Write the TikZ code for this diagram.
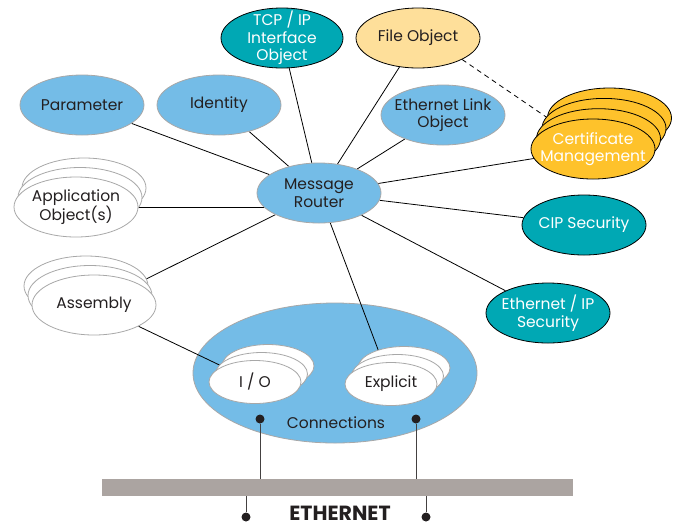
\documentclass[tikz,border=0pt]{standalone}
\usepackage{fontspec}
\setmainfont{Poppins}
\usepackage{tikz}
\usetikzlibrary{shapes.geometric,shadows,positioning}
\definecolor{objblue}{HTML}{74BCE7}
\definecolor{objteal}{HTML}{00A8B4}
\definecolor{fileorg}{HTML}{FEDF9A}
\definecolor{certyel}{HTML}{FEC22B}
\definecolor{rimgray}{HTML}{A8A8A8}
\definecolor{busgray}{HTML}{ABA4A1}
\definecolor{inkdark}{HTML}{231F20}
\pgfdeclarelayer{conn}
\pgfdeclarelayer{wires}
\pgfsetlayers{conn,wires,main}

\begin{document}
\begin{tikzpicture}[x=1pt, y=-1pt,
  obj/.style={ellipse, draw=rimgray, fill=objblue, line width=0.8pt,
              minimum width=124pt, minimum height=60pt,
              inner xsep=-14pt, inner ysep=-9pt,
              align=center, text=inkdark,
              font=\fontsize{15.5}{17.5}\selectfont},
  sec/.style={obj, draw=black, fill=objteal, text=white},
  pile/.style={obj, fill=white},
  sub/.style={pile, minimum width=92pt, minimum height=43pt},
  wire/.style={draw=black, line width=0.8pt},
  tap/.style={circle, fill=inkdark, inner sep=0pt, minimum size=9pt},
  drop/.style={draw=inkdark!85, line width=1pt}
]
\useasboundingbox (0,0) rectangle (677,523);
% Objects round the router
\node[obj] (router) at (319,193) {Message\\Router};
\node[obj] (param) at (82,105) {Parameter};
\node[obj] (ident) at (219,105) {Identity};
\node[sec, minimum width=122pt] (tcpip) at (282,38) {TCP / IP\\Interface\\Object};
\node[obj, draw=black, fill=fileorg] (file) at (418,38) {File Object};
\node[obj] (link) at (443,115) {Ethernet Link\\Object};
\node[sec] (cip) at (584,225) {CIP Security};
\node[sec] (eipsec) at (548,313) {Ethernet / IP\\Security};
% Stacked objects
\node[obj, draw=black, fill=certyel, text=white,
      copy shadow={shadow xshift=16.5pt, shadow yshift=31pt, fill=certyel, draw=black},
      copy shadow={shadow xshift=11pt, shadow yshift=20.6pt, fill=certyel, draw=black},
      copy shadow={shadow xshift=5.5pt, shadow yshift=10.3pt, fill=certyel, draw=black}]
  (cert) at (593,149) {Certificate\\Management};
\node[pile,
      copy shadow={shadow xshift=8pt, shadow yshift=19pt, fill=white, draw=rimgray},
      copy shadow={shadow xshift=4pt, shadow yshift=9.5pt, fill=white, draw=rimgray}]
  (app) at (76,207) {Application\\Object(s)};
\node[pile,
      copy shadow={shadow xshift=-8pt, shadow yshift=19pt, fill=white, draw=rimgray},
      copy shadow={shadow xshift=-4pt, shadow yshift=9.5pt, fill=white, draw=rimgray}]
  (asm) at (94,305) {Assembly};
% Connections
\begin{pgfonlayer}{conn}
\node[obj, minimum width=284pt, minimum height=140pt] (conns) at (335,373) {};
\end{pgfonlayer}
\node[font=\fontsize{15.5}{17.5}\selectfont, text=inkdark] (connlbl) at (336,423) {Connections};
\node[sub,
      copy shadow={shadow xshift=13pt, shadow yshift=16pt, fill=white, draw=rimgray},
      copy shadow={shadow xshift=6.5pt, shadow yshift=8pt, fill=white, draw=rimgray}]
  (io) at (255,382) {I / O};
\node[sub,
      copy shadow={shadow xshift=13pt, shadow yshift=16pt, fill=white, draw=rimgray},
      copy shadow={shadow xshift=6.5pt, shadow yshift=8pt, fill=white, draw=rimgray}]
  (expl) at (391,384) {Explicit};
% Links to the router
\begin{pgfonlayer}{wires}
\foreach \n in {param,ident,tcpip,file,link,cert,cip,eipsec,asm,expl}
  \draw[wire] (router) -- (\n);
\draw[wire] (app) -- (app -| router);
\draw[wire] (asm) -- (io);
\draw[wire, dashed, dash pattern=on 5pt off 4pt] (file.south east) -- (cert);
\end{pgfonlayer}
% Ethernet bus
\node[fill=busgray, minimum width=471pt, minimum height=17pt, inner sep=0pt] (bus) at (337.5,487.5) {};
\node[tap] (iotap) at (260,419) {};
\node[tap] (expltap) at (416,419) {};
\node[tap] (ltap) at (246,517) {};
\node[tap] (rtap) at (426,517) {};
\draw[drop] (iotap) -- (iotap |- bus.north);
\draw[drop] (expltap) -- (expltap |- bus.north);
\draw[drop] (bus.south -| ltap) -- (ltap);
\draw[drop] (bus.south -| rtap) -- (rtap);
\node[font=\fontsize{20.5}{21}\selectfont\bfseries, text=inkdark, inner sep=0pt, anchor=base]
  (ethlbl) at (340,520) {ETHERNET};
\end{tikzpicture}
\end{document}
